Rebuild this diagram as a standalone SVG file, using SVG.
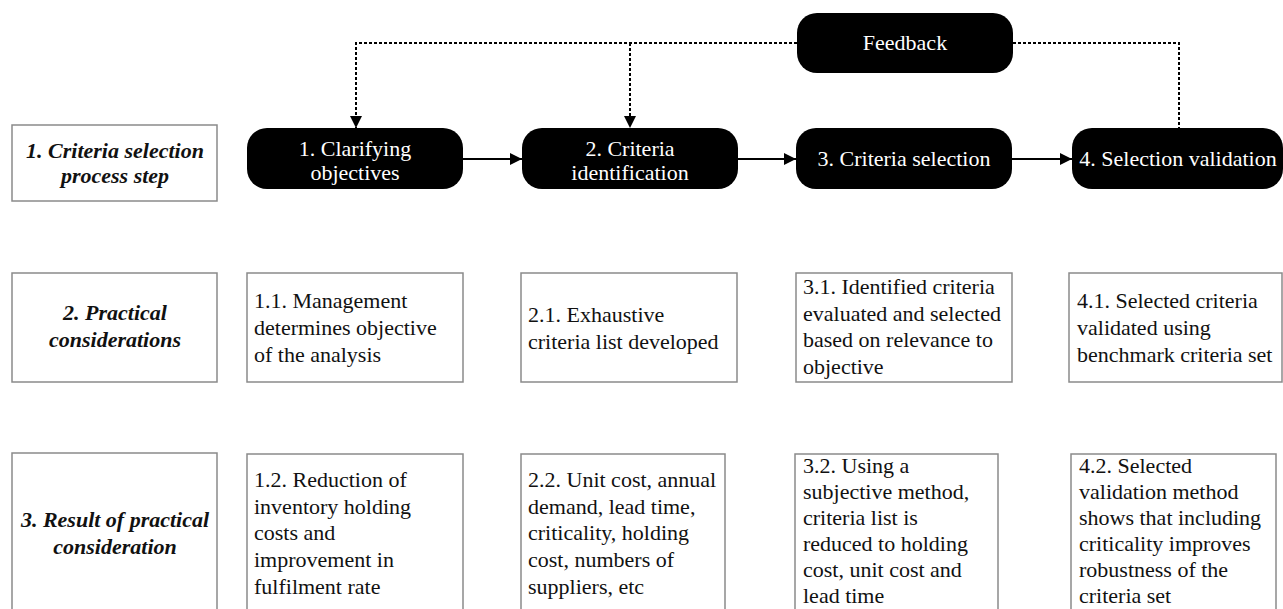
<svg xmlns="http://www.w3.org/2000/svg" width="1283" height="609" viewBox="0 0 1283 609">
  <style>
    text { font-family: "Liberation Serif", "Times New Roman", "DejaVu Serif", serif; font-size: 22px; }
    .lab { font-weight: bold; font-style: italic; fill: #111; text-anchor: middle; }
    .step { fill: #000; }
    .steptext { fill: #fff; text-anchor: middle; }
    .box { fill: #fff; stroke: #8a8a8a; stroke-width: 1.5; }
    .body { fill: #111; }
    .solid { fill: none; stroke: #000; stroke-width: 2; }
    .dot { fill: none; stroke: #000; stroke-width: 2; stroke-dasharray: 3 2; }
  </style>
  <defs>
    <marker id="arr" markerUnits="userSpaceOnUse" markerWidth="13" markerHeight="13" refX="12" refY="6" orient="auto">
      <path d="M0,0 L12,6 L0,12 Z" fill="#000"/>
    </marker>
  </defs>
  <rect width="1283" height="609" fill="#fff"/>

  <g id="connectors">
    <path class="dot" d="M797,43 H356 V128" marker-end="url(#arr)"/>
    <path class="dot" d="M630,43 V128" marker-end="url(#arr)"/>
    <path class="dot" d="M1013,43 H1179 V128"/>
    <path class="solid" d="M463,159 H522" marker-end="url(#arr)"/>
    <path class="solid" d="M738,159 H796" marker-end="url(#arr)"/>
    <path class="solid" d="M1012,159 H1072" marker-end="url(#arr)"/>
  </g>

  <g id="label1">
    <rect class="box" x="12" y="125" width="205" height="76"/>
    <text class="lab" x="115" y="158">1. Criteria selection</text>
    <text class="lab" x="115" y="183">process step</text>
  </g>
  <g id="label2">
    <rect class="box" x="12" y="273" width="205" height="109"/>
    <text class="lab" x="115" y="320">2. Practical</text>
    <text class="lab" x="115" y="347">considerations</text>
  </g>
  <g id="label3">
    <rect class="box" x="12" y="453" width="205" height="170"/>
    <text class="lab" x="115" y="527">3. Result of practical</text>
    <text class="lab" x="115" y="554">consideration</text>
  </g>

  <g id="feedback">
    <rect class="step" x="797" y="13" width="216" height="60" rx="20"/>
    <text class="steptext" x="905" y="50">Feedback</text>
  </g>

  <g id="step1">
    <rect class="step" x="247" y="128" width="216" height="61" rx="20"/>
    <text class="steptext" x="355" y="156">1. Clarifying</text>
    <text class="steptext" x="355" y="180">objectives</text>
  </g>
  <g id="step2">
    <rect class="step" x="522" y="128" width="216" height="61" rx="20"/>
    <text class="steptext" x="630" y="156">2. Criteria</text>
    <text class="steptext" x="630" y="180">identification</text>
  </g>
  <g id="step3">
    <rect class="step" x="796" y="128" width="216" height="61" rx="20"/>
    <text class="steptext" x="904" y="166">3. Criteria selection</text>
  </g>
  <g id="step4">
    <rect class="step" x="1072" y="128" width="211" height="61" rx="20"/>
    <text class="steptext" x="1178" y="166">4. Selection validation</text>
  </g>

  <g id="p11">
    <rect class="box" x="247" y="273" width="216" height="109"/>
    <text class="body" x="254" y="308">1.1. Management</text>
    <text class="body" x="254" y="335">determines objective</text>
    <text class="body" x="254" y="362">of the analysis</text>
  </g>
  <g id="p21">
    <rect class="box" x="521" y="273" width="216" height="109"/>
    <text class="body" x="528" y="322">2.1. Exhaustive</text>
    <text class="body" x="528" y="349">criteria list developed</text>
  </g>
  <g id="p31">
    <rect class="box" x="796" y="273" width="216" height="109"/>
    <text class="body" x="803" y="294">3.1. Identified criteria</text>
    <text class="body" x="803" y="321">evaluated and selected</text>
    <text class="body" x="803" y="347">based on relevance to</text>
    <text class="body" x="803" y="374">objective</text>
  </g>
  <g id="p41">
    <rect class="box" x="1069" y="273" width="213" height="109"/>
    <text class="body" x="1077" y="308">4.1. Selected criteria</text>
    <text class="body" x="1077" y="335">validated using</text>
    <text class="body" x="1077" y="362">benchmark criteria set</text>
  </g>

  <g id="r12">
    <rect class="box" x="247" y="454" width="216" height="170"/>
    <text class="body" x="254" y="487">1.2. Reduction of</text>
    <text class="body" x="254" y="514">inventory holding</text>
    <text class="body" x="254" y="540">costs and</text>
    <text class="body" x="254" y="567">improvement in</text>
    <text class="body" x="254" y="594">fulfilment rate</text>
  </g>
  <g id="r22">
    <rect class="box" x="521" y="454" width="204" height="170"/>
    <text class="body" x="528" y="487">2.2. Unit cost, annual</text>
    <text class="body" x="528" y="514">demand, lead time,</text>
    <text class="body" x="528" y="540">criticality, holding</text>
    <text class="body" x="528" y="567">cost, numbers of</text>
    <text class="body" x="528" y="594">suppliers, etc</text>
  </g>
  <g id="r32">
    <rect class="box" x="795" y="454" width="203" height="170"/>
    <text class="body" x="803" y="473">3.2. Using a</text>
    <text class="body" x="803" y="499">subjective method,</text>
    <text class="body" x="803" y="525">criteria list is</text>
    <text class="body" x="803" y="551">reduced to holding</text>
    <text class="body" x="803" y="577">cost, unit cost and</text>
    <text class="body" x="803" y="603">lead time</text>
  </g>
  <g id="r42">
    <rect class="box" x="1071" y="454" width="205" height="170"/>
    <text class="body" x="1079" y="473">4.2. Selected</text>
    <text class="body" x="1079" y="499">validation method</text>
    <text class="body" x="1079" y="525">shows that including</text>
    <text class="body" x="1079" y="551">criticality improves</text>
    <text class="body" x="1079" y="577">robustness of the</text>
    <text class="body" x="1079" y="603">criteria set</text>
  </g>
</svg>
